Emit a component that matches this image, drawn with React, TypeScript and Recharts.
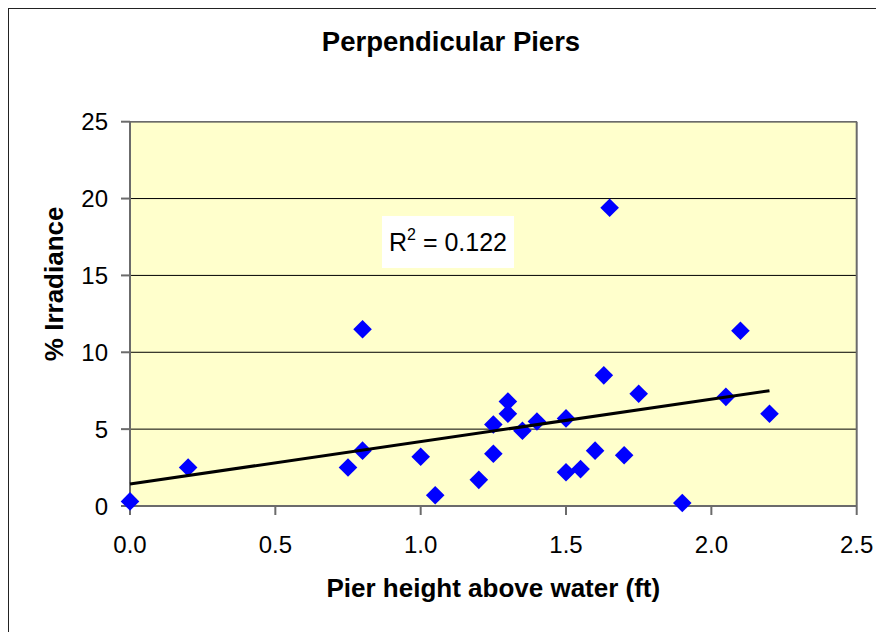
import React from "react";
import {
  ScatterChart,
  Scatter,
  XAxis,
  YAxis,
  CartesianGrid,
  ReferenceLine,
  Label,
} from "recharts";

// values
const PIER_HEIGHT = [
  0, 0.2, 0.75, 0.8, 0.8, 1.0, 1.05, 1.2, 1.25, 1.25, 1.3, 1.3, 1.35, 1.4,
  1.5, 1.5, 1.55, 1.6, 1.63, 1.65, 1.7, 1.75, 1.9, 2.05, 2.1, 2.2,
];
const IRRADIANCE = [
  0.3, 2.5, 2.5, 11.5, 3.6, 3.2, 0.7, 1.7, 5.3, 3.4, 6.8, 6.0, 4.9, 5.5,
  5.7, 2.2, 2.4, 3.6, 8.5, 19.4, 3.3, 7.3, 0.2, 7.1, 11.4, 6.0,
];
// linear trend line end points (as drawn in the picture)
const TREND_X = [0, 2.2];
const TREND_Y = [1.43, 7.5];

const X_TICKS = [0, 0.5, 1.0, 1.5, 2.0, 2.5];
const Y_TICKS = [0, 5, 10, 15, 20, 25];

const TITLE = "Perpendicular Piers";
const X_TITLE = "Pier height above water (ft)";
const Y_TITLE = "% Irradiance";
const R2_TEXT = "0.122";

const FONT = "'Liberation Sans', Arial, sans-serif";
const AXIS_GRAY = "#6b6b6b";

const points = PIER_HEIGHT.map((x, i) => ({ x, y: IRRADIANCE[i] }));
const trend = TREND_X.map((x, i) => ({ x, y: TREND_Y[i] }));

function Diamond(props: any) {
  const { cx, cy } = props;
  if (cx == null || cy == null) return <g />;
  const r = 9.3;
  return (
    <polygon
      points={`${cx},${cy - r} ${cx + r},${cy} ${cx},${cy + r} ${cx - r},${cy}`}
      fill="#0000FF"
    />
  );
}

export default function App() {
  return (
    <div
      style={{
        position: "relative",
        width: 876,
        height: 624,
        overflow: "hidden",
        fontFamily: FONT,
        background: "#fff",
      }}
    >
      {/* outer chart frame, right/bottom run past the page */}
      <div
        style={{
          position: "absolute",
          left: -1,
          top: -1,
          width: 1000,
          height: 1000,
          borderTop: "2px solid #222",
          borderLeft: "2px solid #222",
        }}
      />
      <div
        style={{
          position: "absolute",
          left: 0,
          top: 20,
          width: 886,
          textAlign: "center",
          fontSize: 27.5,
          lineHeight: "27px",
          fontWeight: "bold",
          color: "#000",
        }}
      >
        {TITLE}
      </div>

      <ScatterChart
        width={876}
        height={624}
        margin={{ top: 113.7, right: 27.3, bottom: 26, left: 22 }}
        style={{ position: "absolute", left: 0, top: 0, fontFamily: FONT }}
      >
        <CartesianGrid
          vertical={false}
          stroke="#000"
          strokeWidth={1}
          fill="#FFFFCC"
          fillOpacity={1}
        />
        <ReferenceLine x={2.5} stroke={AXIS_GRAY} strokeWidth={2} />
        <ReferenceLine y={25} stroke={AXIS_GRAY} strokeWidth={1.5} />
        <XAxis
          type="number"
          dataKey="x"
          domain={[0, 2.5]}
          ticks={X_TICKS}
          tickFormatter={(v: number) => v.toFixed(1)}
          height={100}
          tickSize={9}
          tickMargin={21}
          stroke={AXIS_GRAY}
          strokeWidth={2}
          tick={{ fontSize: 24, fill: "#000", fontFamily: FONT }}
        >
          <Label
            content={(p: any) => {
              const vb = p.viewBox || {};
              return (
                <text
                  x={vb.x + vb.width / 2}
                  y={vb.y + 90.7}
                  textAnchor="middle"
                  fontSize={26}
                  fontWeight="bold"
                  fontFamily={FONT}
                  fill="#000"
                >
                  {X_TITLE}
                </text>
              );
            }}
          />
        </XAxis>
        <YAxis
          type="number"
          dataKey="y"
          domain={[0, 25]}
          ticks={Y_TICKS}
          width={100}
          tickSize={9}
          tickMargin={13}
          stroke={AXIS_GRAY}
          strokeWidth={2}
          tick={{ fontSize: 24, fill: "#000", fontFamily: FONT }}
        >
          <Label
            content={(p: any) => {
              const vb = p.viewBox || {};
              const x = vb.x + 33;
              const y = vb.y + vb.height / 2 - 30;
              return (
                <text
                  x={x}
                  y={y}
                  transform={`rotate(-90, ${x}, ${y})`}
                  textAnchor="middle"
                  fontSize={26}
                  fontWeight="bold"
                  fontFamily={FONT}
                  fill="#000"
                >
                  {Y_TITLE}
                </text>
              );
            }}
          />
        </YAxis>
        <Scatter
          data={points}
          shape={<Diamond />}
          isAnimationActive={false}
        />
        <Scatter
          data={trend}
          line={{ stroke: "#000", strokeWidth: 3 }}
          shape={() => <g />}
          isAnimationActive={false}
        />
      </ScatterChart>

      {/* R-squared label box */}
      <div
        style={{
          position: "absolute",
          left: 374,
          top: 208,
          width: 132,
          height: 52,
          background: "#fff",
          fontSize: 25,
          lineHeight: "52px",
          textAlign: "center",
          color: "#000",
          whiteSpace: "nowrap",
        }}
      >
        R<sup style={{ fontSize: 16, verticalAlign: "top", lineHeight: "38px" }}>2</sup> = {R2_TEXT}
      </div>
    </div>
  );
}
